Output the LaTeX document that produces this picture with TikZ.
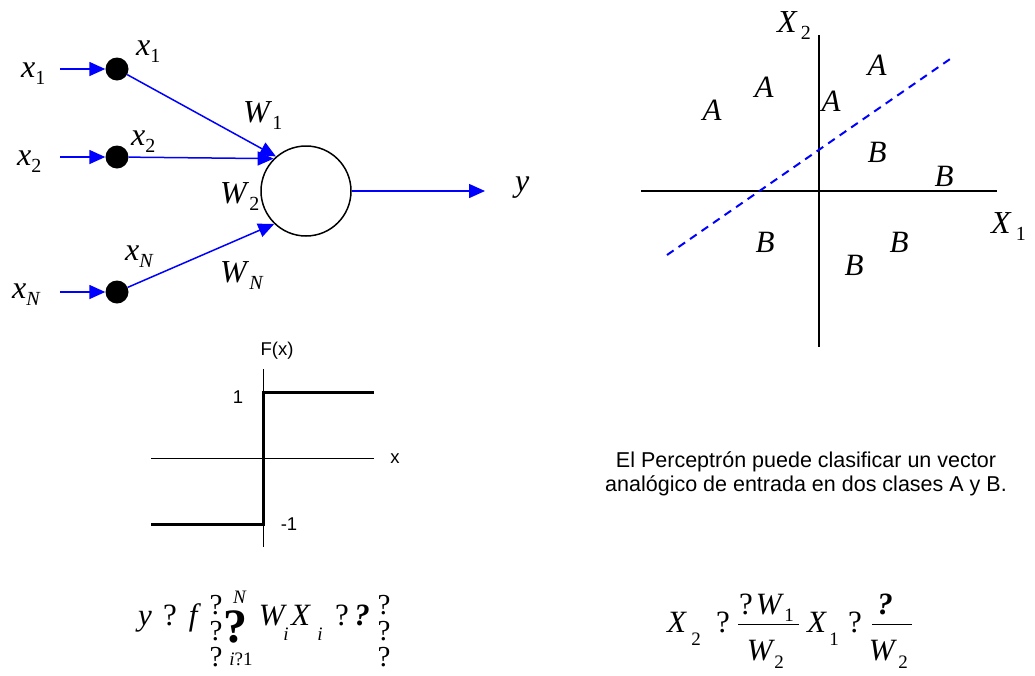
\documentclass[tikz,border=0pt]{standalone}
\usepackage{fontspec}
\setmainfont{Liberation Serif}
\setsansfont{Liberation Sans}
\usetikzlibrary{arrows.meta}
\definecolor{nblue}{RGB}{0,0,255}
\newcommand{\mysub}[1]{\raisebox{-7pt}{\fontsize{20}{22}\selectfont #1}}
\begin{document}
\begin{tikzpicture}[x=1pt,y=-1pt,
  lab/.style={font=\fontsize{32}{38}\selectfont, inner sep=0pt, anchor=base west},
  labX/.style={font=\fontsize{32}{38}\selectfont, inner sep=0pt, anchor=base west},
  ptl/.style={font=\fontsize{31}{36}\selectfont\itshape, inner sep=0pt},
  dot/.style={circle, fill=black, minimum size=23pt, inner sep=0pt},
  neuron/.style={circle, draw=black, line width=1.5pt, minimum size=90pt, inner sep=0pt},
  conn/.style={draw=nblue, line width=1.5pt, -{Triangle[length=16pt,width=14pt]}},
  axis/.style={draw=black, line width=2pt},
  thin/.style={draw=black, line width=1pt},
  thick/.style={draw=black, line width=3pt},
  sep/.style={draw=nblue, line width=2pt, dash pattern=on 8pt off 6pt},
  sans/.style={font=\fontsize{18.5}{22}\selectfont\sffamily, inner sep=0pt, anchor=base},
  fm/.style={font=\fontsize{31}{36}\selectfont, inner sep=0pt, anchor=base},
  fmq/.style={font=\fontsize{29}{34}\selectfont, inner sep=0pt, anchor=base},
  fms/.style={font=\fontsize{19}{22}\selectfont, inner sep=0pt, anchor=base},
  fbig/.style={font=\fontsize{48}{54}\selectfont\bfseries, inner sep=0pt, anchor=base}]
\useasboundingbox (0,0) rectangle (1035,675);

% ---------------- perceptron network ----------------
\coordinate (in1) at (60,69);
\coordinate (in2) at (60,157);
\coordinate (inN) at (60,292);
\node[dot] (d1) at (117,69) {};
\node[dot] (d2) at (117,157) {};
\node[dot] (dN) at (117,292) {};
\node[neuron] (c) at (306,191) {};
\coordinate (out) at (485,191);

\draw[conn] (in1) -- (d1);
\draw[conn] (in2) -- (d2);
\draw[conn] (inN) -- (dN);
\draw[conn] (d1) -- (c.131);
\draw[conn] (d2) -- (c.135);
\draw[conn] (dN) -- (c.226);
\draw[conn] (c) -- (out);

\node[lab] (lx1) at (21,77) {\textit{x}\mysub{1}};
\node[lab] (lx2) at (17,165) {\textit{x}\mysub{2}};
\node[lab] (lxN) at (12,298) {\textit{x}\mysub{\textit{N}}};
\node[lab] (ldx1) at (136,55) {\textit{x}\mysub{1}};
\node[lab] (ldx2) at (131,145) {\textit{x}\mysub{2}};
\node[lab] (ldxN) at (125,260) {\textit{x}\mysub{\textit{N}}};
\node[lab] (lW1) at (243,122) {\textit{W}\mysub{1}};
\node[lab] (lW2) at (220,203) {\textit{W}\mysub{2}};
\node[lab] (lWN) at (220,282) {\textit{W}\mysub{\textit{N}}};
\node[lab] (ly) at (515,191) {\textit{y}};

% ---------------- classification plane ----------------
\draw[axis] (819,35) -- (819,347);
\draw[axis] (641,191) -- (997,191);
\draw[sep] (667,255) -- (953,57);
\node[labX] (lX2) at (777,32) {\textit{X}\hspace{3pt}\mysub{2}};
\node[labX] (lX1) at (991,233) {\textit{X}\hspace{4pt}\mysub{1}};
\node[ptl] (a1) at (712,110) {A};
\node[ptl] (a2) at (764,87) {A};
\node[ptl] (a3) at (831,101) {A};
\node[ptl] (a4) at (877,65) {A};
\node[ptl] (b1) at (877,152) {B};
\node[ptl] (b2) at (944,176) {B};
\node[ptl] (b3) at (765,242) {B};
\node[ptl] (b4) at (899,242) {B};
\node[ptl] (b5) at (854,265) {B};

% ---------------- step function ----------------
\draw[thin] (263,369) -- (263,547);
\draw[thin] (151,458) -- (374,458);
\draw[thick] (151,524) -- (263,524) -- (263,392) -- (374,392);
\node[sans] (lF) at (277,355) {F(x)};
\node[sans] (lx) at (395,463) {x};
\node[sans] (l1) at (238,403) {1};
\node[sans] (lm1) at (289,530) {-1};

% ---------------- caption ----------------
\node[font=\fontsize{21.5}{24}\selectfont\sffamily, align=center, inner sep=0pt] (txt) at (806,474)
  {El Perceptrón puede clasificar un vector\\analógico de entrada en dos clases A y B.};

% ---------------- formula 1 ----------------
\node[fm] (f1y) at (145,625) {\textit{y}};
\node[fm] (f1q1) at (170,625) {?};
\node[fm] (f1f) at (195,625) {\textit{f}};
\node[fmq] (f1l1) at (216,614) {?};
\node[fmq] (f1l2) at (216,640) {?};
\node[fmq] (f1l3) at (216,666) {?};
\node[fbig] (f1s) at (235,642) {?};
\node[fms] (f1N) at (240,603) {\textit{N}};
\node[fms] (f1i) at (241,665) {\textit{i}?1};
\node[fm] (f1W) at (273,625) {\textit{W}};
\node[fms] (f1Wi) at (286,640) {\textit{i}};
\node[fm] (f1X) at (301,625) {\textit{X}};
\node[fms] (f1Xi) at (320,640) {\textit{i}};
\node[fm] (f1q2) at (342,625) {?};
\node[fm] (f1q3) at (362,625) {\textbf{\textit{?}}};
\node[fmq] (f1r1) at (384,614) {?};
\node[fmq] (f1r2) at (384,640) {?};
\node[fmq] (f1r3) at (384,666) {?};

% ---------------- formula 2 ----------------
\node[fm] (f2X) at (677,632) {\textit{X}};
\node[fms] (f2X2) at (696,645) {2};
\node[fm] (f2q1) at (723,632) {?};
\draw[thin] (738,624) -- (799,624);
\node[fm] (f2nq) at (746,614) {?};
\node[fm] (f2nW) at (770,614) {\textit{W}};
\node[fms] (f2nW1) at (789,621) {1};
\node[fm] (f2dW) at (761,660) {\textit{W}};
\node[fms] (f2dW2) at (779,668) {2};
\node[fm] (f2X1) at (817,632) {\textit{X}};
\node[fms] (f2X1s) at (834,645) {1};
\node[fm] (f2q2) at (855,632) {?};
\draw[thin] (872,624) -- (912,624);
\node[fm] (f2nq2) at (885,614) {\textbf{\textit{?}}};
\node[fm] (f2dW3) at (883,660) {\textit{W}};
\node[fms] (f2dW3s) at (903,668) {2};
\end{tikzpicture}
\end{document}
